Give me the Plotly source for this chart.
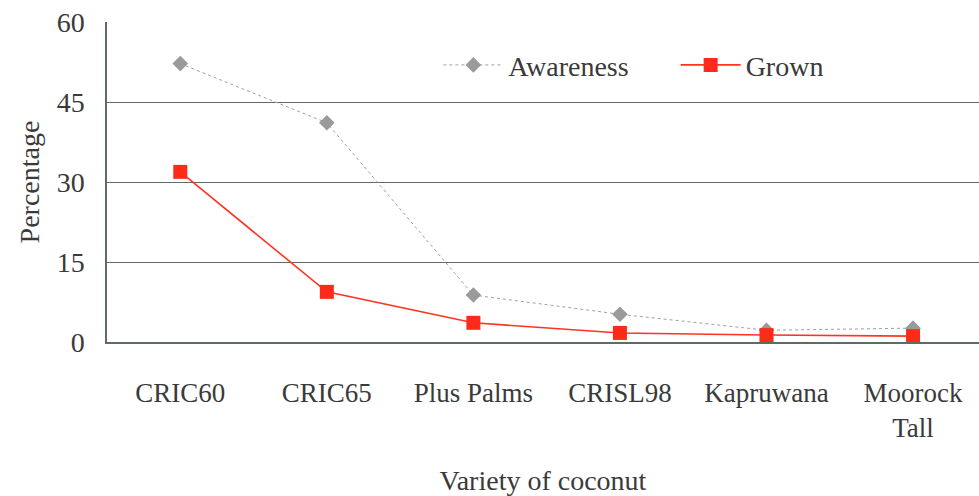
import plotly.graph_objects as go

categories = ["CRIC60", "CRIC65", "Plus Palms", "CRISL98", "Kapruwana", "Moorock<br>Tall"]
series_names = ["Awareness\u2003\u2002", "Grown"]
awareness = [52.2, 41.1, 8.8, 5.2, 2.2, 2.6]
grown = [31.9, 9.4, 3.6, 1.7, 1.3, 1.1]
y_ticks = [0, 15, 30, 45, 60]

FF = "Liberation Serif"
TXT = "#3a3a3a"
grid_color = "#5f6b66"

fig = go.Figure()
fig.add_trace(go.Scatter(
    x=categories, y=awareness, name=series_names[0], mode="lines+markers",
    line=dict(color="#a0a0a0", width=1, dash="dot"),
    marker=dict(symbol="diamond", size=12, color="#9a9a9a"),
))
fig.add_trace(go.Scatter(
    x=categories, y=grown, name=series_names[1], mode="lines+markers",
    line=dict(color="#ff3322", width=1.6),
    marker=dict(symbol="square", size=14, color="#ff2a1a"),
))

fig.update_layout(
    width=979, height=496,
    margin=dict(l=107, r=0, t=22, b=154, autoexpand=False),
    paper_bgcolor="white", plot_bgcolor="white",
    font=dict(family=FF, size=26, color=TXT),
    showlegend=True,
    legend=dict(orientation="h", x=0.38, y=0.865, xanchor="left", yanchor="middle",
                font=dict(family=FF, size=28, color=TXT), bgcolor="rgba(0,0,0,0)",
                itemwidth=60, tracegroupgap=0),
    xaxis=dict(
        type="category", range=[-0.5, 5.45], automargin=False,
        showgrid=False, showline=True, linecolor=grid_color, linewidth=1.5,
        ticks="", ticklabelstandoff=26,
        tickfont=dict(family=FF, size=27, color=TXT),
        title=dict(text="Variety of coconut", font=dict(family=FF, size=28, color=TXT), standoff=44),
    ),
    yaxis=dict(
        range=[0, 60], tickvals=y_ticks, showgrid=True, gridcolor=grid_color, gridwidth=1.2,
        showline=True, linecolor=grid_color, linewidth=1.5, zeroline=False, automargin=False,
        ticks="", ticklabelstandoff=15, tickfont=dict(family=FF, size=28, color=TXT),
        title=dict(text="Percentage", font=dict(family=FF, size=28, color=TXT), standoff=9),
    ),
)

fig.write_html("out.html")
